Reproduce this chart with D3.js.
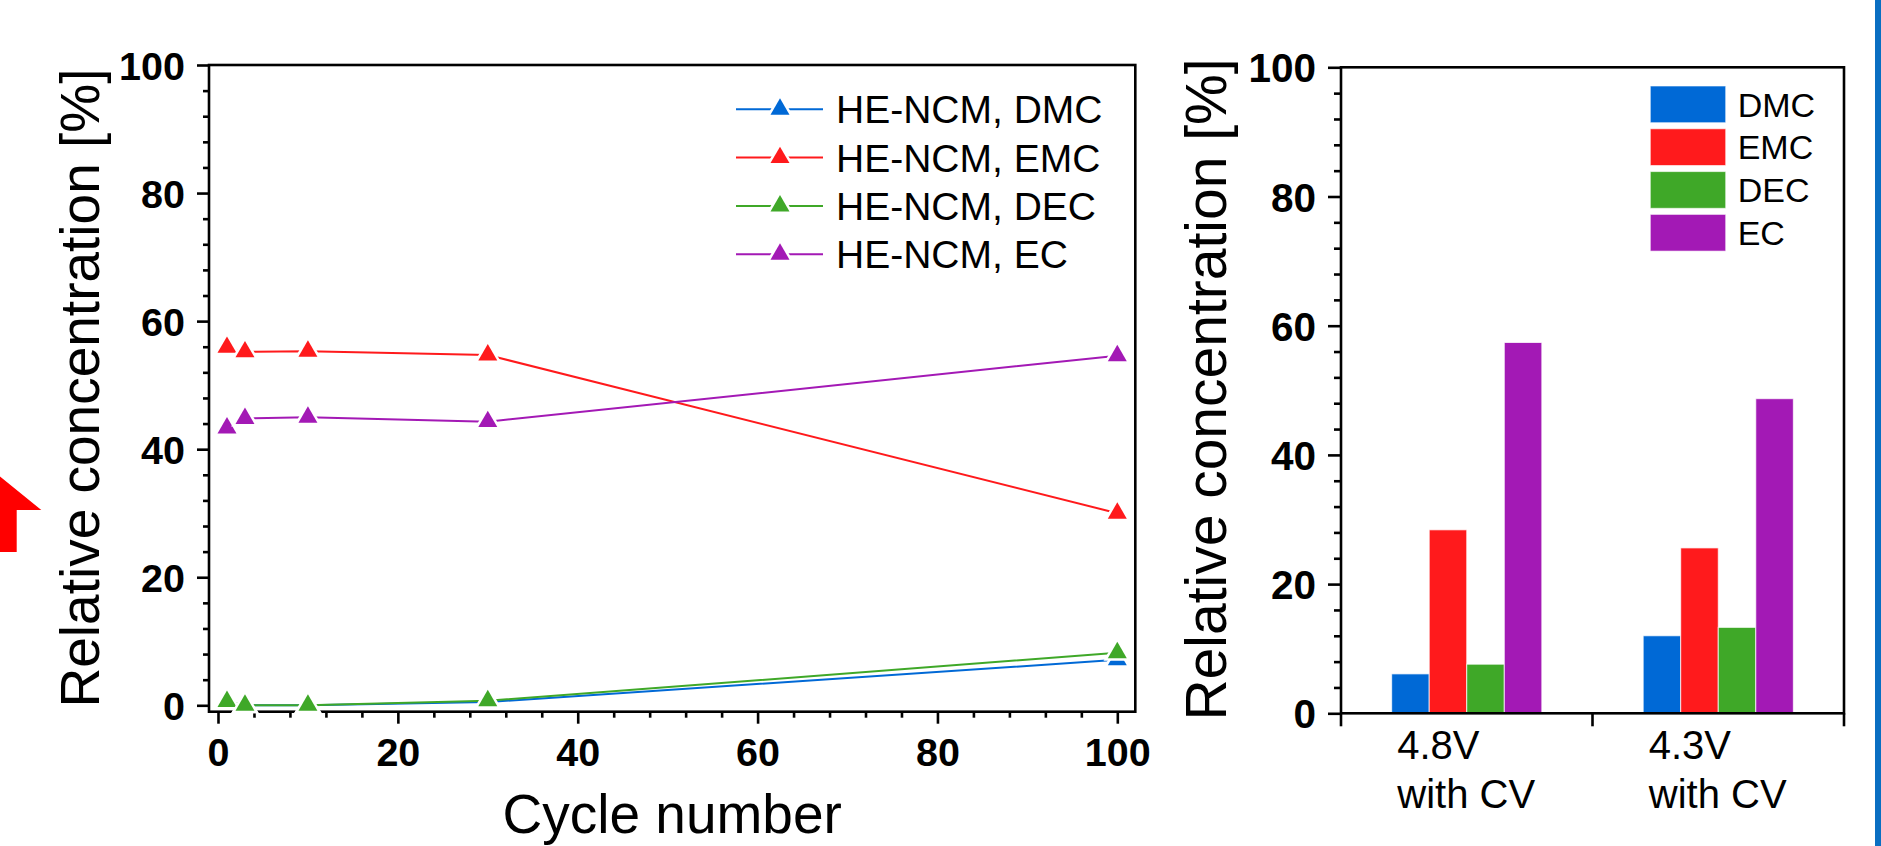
<!DOCTYPE html>
<html>
<head>
<meta charset="utf-8">
<script src="https://cdn.jsdelivr.net/npm/d3@7"></script>
<style>
  html, body { margin: 0; padding: 0; background: #fff; }
  svg { display: block; font-family: "Liberation Sans", Arial, Helvetica, sans-serif; }
</style>
</head>
<body>
<svg id="fig" width="1881" height="846"></svg>
<script>
// ---- data: left panel (concentration vs cycle number) ----
const cycles = [1, 3, 10, 30, 100];
const dmcCycle = [0.5, 0.0, 0.0, 0.5, 7.1];
const emcCycle = [55.9, 55.2, 55.3, 54.7, 30.0];
const decCycle = [0.6, 0.0, 0.0, 0.7, 8.2];
const ecCycle = [43.3, 44.8, 45.0, 44.3, 54.6];
const lineNames = ["HE-NCM, DMC", "HE-NCM, EMC", "HE-NCM, DEC", "HE-NCM, EC"];

// ---- data: right panel (bars per condition) ----
const solvents = ["DMC", "EMC", "DEC", "EC"];
const conditions = ["4.8V\nwith CV", "4.3V\nwith CV"];
const bars48 = [6.1, 28.4, 7.6, 57.4];
const bars43 = [12.0, 25.6, 13.3, 48.7];

// ---- tick values ----
const majorTicks = [0, 20, 40, 60, 80, 100];
const minorTicks = d3.range(0, 101, 4).filter(v => v % 20 !== 0);

const colors = ["#0069d6", "#ff1a1c", "#3fa828", "#a319b5"];
const svg = d3.select("#fig");
svg.append("rect").attr("width", 1881).attr("height", 846).attr("fill", "#fff");

// decorative arrow fragment and edge strip of the surrounding figure
svg.append("polygon")
  .attr("points", "-40,444 41.3,510 16.7,510 16.7,552 -40,552")
  .attr("fill", "#ff0000");
svg.append("rect").attr("x", 1875).attr("y", 0).attr("width", 6).attr("height", 846)
  .attr("fill", "#0a6fc2");

const AXW = 2.6;

function styleAxis(g, fontSize) {
  g.select(".domain").remove();
  g.selectAll("line").attr("stroke", "#000").attr("stroke-width", AXW);
  g.selectAll("text").attr("fill", "#000").attr("font-size", fontSize).attr("font-weight", "bold")
    .attr("font-family", "'Liberation Sans', Arial, sans-serif");
}

// ================= left panel =================
const L = { left: 209, right: 1135.3, top: 65, bottom: 711.7 };
const xL = d3.scaleLinear().domain([-1, 102]).range([L.left, L.right]);
const yL = d3.scaleLinear().domain([-1, 100]).range([L.bottom, L.top]);

const gL = svg.append("g");

// minor ticks
gL.append("g").attr("transform", `translate(${L.left},0)`)
  .call(d3.axisLeft(yL).tickValues(minorTicks).tickSize(6).tickFormat(""))
  .call(g => styleAxis(g, 39));
gL.append("g").attr("transform", `translate(0,${L.bottom})`)
  .call(d3.axisBottom(xL).tickValues(minorTicks).tickSize(6).tickFormat(""))
  .call(g => styleAxis(g, 39));
// major ticks + labels
gL.append("g").attr("transform", `translate(${L.left},0)`)
  .call(d3.axisLeft(yL).tickValues(majorTicks).tickSize(12).tickPadding(12).tickFormat(d3.format("d")))
  .call(g => styleAxis(g, 39.5))
  .call(g => g.selectAll("text").attr("dy", "0.36em"));
gL.append("g").attr("transform", `translate(0,${L.bottom})`)
  .call(d3.axisBottom(xL).tickValues(majorTicks).tickSize(12).tickPadding(14).tickFormat(d3.format("d")))
  .call(g => styleAxis(g, 39.5));

// frame
gL.append("rect")
  .attr("x", L.left).attr("y", L.top)
  .attr("width", L.right - L.left).attr("height", L.bottom - L.top)
  .attr("fill", "none").attr("stroke", "#000").attr("stroke-width", AXW);

// series lines with triangle markers
const tri = d3.symbol().type(d3.symbolTriangle).size(156);
const lineData = [dmcCycle, emcCycle, decCycle, ecCycle];
const line = d3.line().x(d => xL(d[0])).y(d => yL(d[1]));

lineData.forEach((vals, i) => {
  const pts = cycles.map((c, j) => [c, vals[j]]);
  const s = gL.append("g");
  s.append("path").attr("d", line(pts)).attr("fill", "none")
    .attr("stroke", colors[i]).attr("stroke-width", 2);
  s.selectAll("path.m").data(pts).join("path").attr("class", "m")
    .attr("d", tri)
    .attr("transform", d => `translate(${xL(d[0])},${yL(d[1])})`)
    .attr("fill", colors[i]).attr("stroke", "#fff").attr("stroke-width", 5)
    .attr("paint-order", "stroke");
});

// legend
const legL = gL.append("g");
lineNames.forEach((name, i) => {
  const cy = 109.3 + i * 48.3;
  legL.append("line").attr("x1", 736).attr("x2", 823).attr("y1", cy).attr("y2", cy)
    .attr("stroke", colors[i]).attr("stroke-width", 2);
  legL.append("path").attr("d", tri).attr("transform", `translate(780,${cy})`)
    .attr("fill", colors[i]).attr("stroke", "#fff").attr("stroke-width", 5)
    .attr("paint-order", "stroke");
  legL.append("text").attr("x", 836).attr("y", cy).attr("dy", "0.36em")
    .attr("font-size", 39).attr("fill", "#000").text(name);
});

// axis titles
gL.append("text").attr("transform", "translate(99,388) rotate(-90)")
  .attr("text-anchor", "middle").attr("font-size", 55).attr("fill", "#000")
  .text("Relative concentration [%]");
gL.append("text").attr("x", (L.left + L.right) / 2).attr("y", 833)
  .attr("text-anchor", "middle").attr("font-size", 55).attr("fill", "#000")
  .text("Cycle number");

// ================= right panel =================
const R = { left: 1341, right: 1844, top: 67.3, bottom: 713.3 };
const xR = d3.scaleBand().domain(conditions).range([R.left, R.right]).paddingInner(0).paddingOuter(0);
const xS = d3.scaleBand().domain(solvents).range([0, xR.bandwidth()]).paddingInner(0).paddingOuter(1.35);
const yR = d3.scaleLinear().domain([0, 100]).range([R.bottom, R.top]);

const gR = svg.append("g");
const barValues = [bars48, bars43];

// bars
conditions.forEach((cond, ci) => {
  gR.append("g").attr("transform", `translate(${xR(cond)},0)`)
    .selectAll("rect").data(solvents.map((s, k) => ({ s, v: barValues[ci][k], k })))
    .join("rect")
    .attr("x", d => xS(d.s)).attr("width", xS.bandwidth())
    .attr("y", d => yR(d.v)).attr("height", d => yR(0) - yR(d.v))
    .attr("fill", d => colors[d.k])
    .attr("stroke", "#fff").attr("stroke-opacity", 0.75).attr("stroke-width", 1);
});

// y axis ticks
gR.append("g").attr("transform", `translate(${R.left},0)`)
  .call(d3.axisLeft(yR).tickValues(minorTicks).tickSize(7).tickFormat(""))
  .call(g => styleAxis(g, 40));
gR.append("g").attr("transform", `translate(${R.left},0)`)
  .call(d3.axisLeft(yR).tickValues(majorTicks).tickSize(13).tickPadding(12).tickFormat(d3.format("d")))
  .call(g => styleAxis(g, 40.5))
  .call(g => g.selectAll("text").attr("dy", "0.36em"));

// category boundary ticks on the x axis
const bounds = conditions.map(c => xR(c)).concat([xR.range()[1]]);
gR.selectAll("line.cb").data(bounds).join("line").attr("class", "cb")
  .attr("x1", d => d).attr("x2", d => d)
  .attr("y1", R.bottom).attr("y2", R.bottom + 13)
  .attr("stroke", "#000").attr("stroke-width", AXW);

// frame
gR.append("rect")
  .attr("x", R.left).attr("y", R.top)
  .attr("width", R.right - R.left).attr("height", R.bottom - R.top)
  .attr("fill", "none").attr("stroke", "#000").attr("stroke-width", AXW);

// category labels (two lines, left-aligned with the centred second line)
conditions.forEach(cond => {
  const lines = cond.split("\n");
  const cx = xR(cond) + xR.bandwidth() / 2;
  const t = gR.append("text").attr("font-size", 40).attr("fill", "#000");
  lines.forEach((ln, i) => {
    t.append("tspan").attr("x", cx - 69.5).attr("y", 759 + i * 49).text(ln);
  });
});

// legend
const legR = gR.append("g");
solvents.forEach((s, i) => {
  const top = 86 + i * 42.8;
  legR.append("rect").attr("x", 1650.3).attr("y", top).attr("width", 75.4).attr("height", 36.7)
    .attr("fill", colors[i]).attr("stroke", "#fff").attr("stroke-opacity", 0.6).attr("stroke-width", 1);
  legR.append("text").attr("x", 1737.7).attr("y", top + 18.35).attr("dy", "0.36em")
    .attr("font-size", 34).attr("fill", "#000").text(s);
});

// y axis title
gR.append("text").attr("transform", "translate(1226,389.5) rotate(-90)")
  .attr("text-anchor", "middle").attr("font-size", 57).attr("fill", "#000")
  .text("Relative concentration [%]");
</script>
</body>
</html>
